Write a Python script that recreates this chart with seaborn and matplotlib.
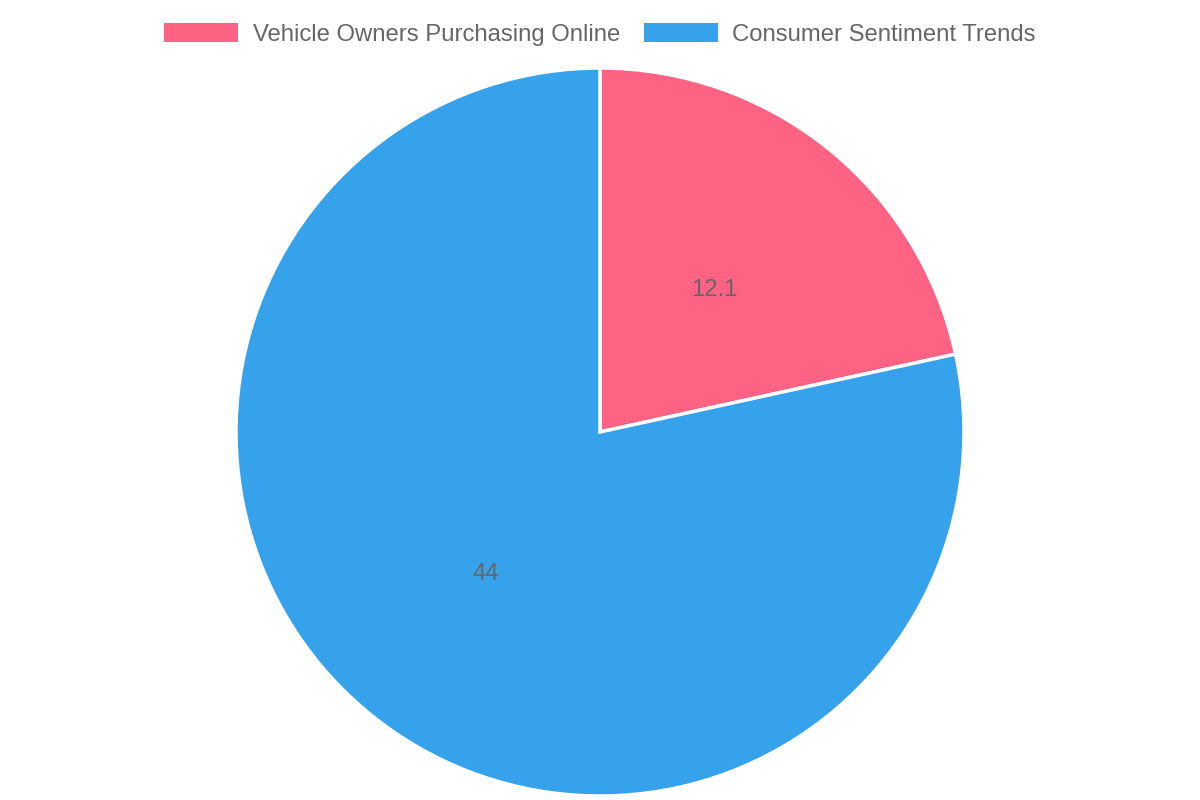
import matplotlib
matplotlib.use("Agg")
import matplotlib.pyplot as plt
import seaborn as sns
from matplotlib.patches import Patch

# data
LABELS = ["Vehicle Owners Purchasing Online", "Consumer Sentiment Trends"]
VALUES = [12.1, 44]
COLORS = ["#FF6384", "#36A2EB"]

sns.set_theme(style="white")
plt.rcParams["font.family"] = ["Liberation Sans", "DejaVu Sans"]

fig = plt.figure(figsize=(12, 8), dpi=100)
# pie centre at (600, 432) px from top, radius 364 px
ax = fig.add_axes([236 / 1200, 4 / 800, 728 / 1200, 728 / 800])

total = sum(VALUES)


def fmt(pct):
    v = pct * total / 100
    return f"{v:.3g}"


wedges, texts, autotexts = ax.pie(
    VALUES, colors=COLORS, startangle=90, counterclock=False,
    autopct=fmt, pctdistance=0.5, radius=1,
    wedgeprops=dict(edgecolor="white", linewidth=2.5),
    textprops=dict(color="#666666", fontsize=17.2),
)
ax.set_xlim(-1.0, 1.0)
ax.set_ylim(-1.0, 1.0)
ax.set_aspect("equal")
ax.axis("off")

handles = [Patch(facecolor=c, edgecolor="none") for c in COLORS]
fig.legend(handles, LABELS, loc="upper center", bbox_to_anchor=(0.5, 0.998),
           ncol=2, frameon=False, fontsize=17.2, labelcolor="#666666",
           handlelength=3.1, handleheight=0.85, handletextpad=0.6,
           columnspacing=1.0)

fig.savefig("out.png", dpi=100)
